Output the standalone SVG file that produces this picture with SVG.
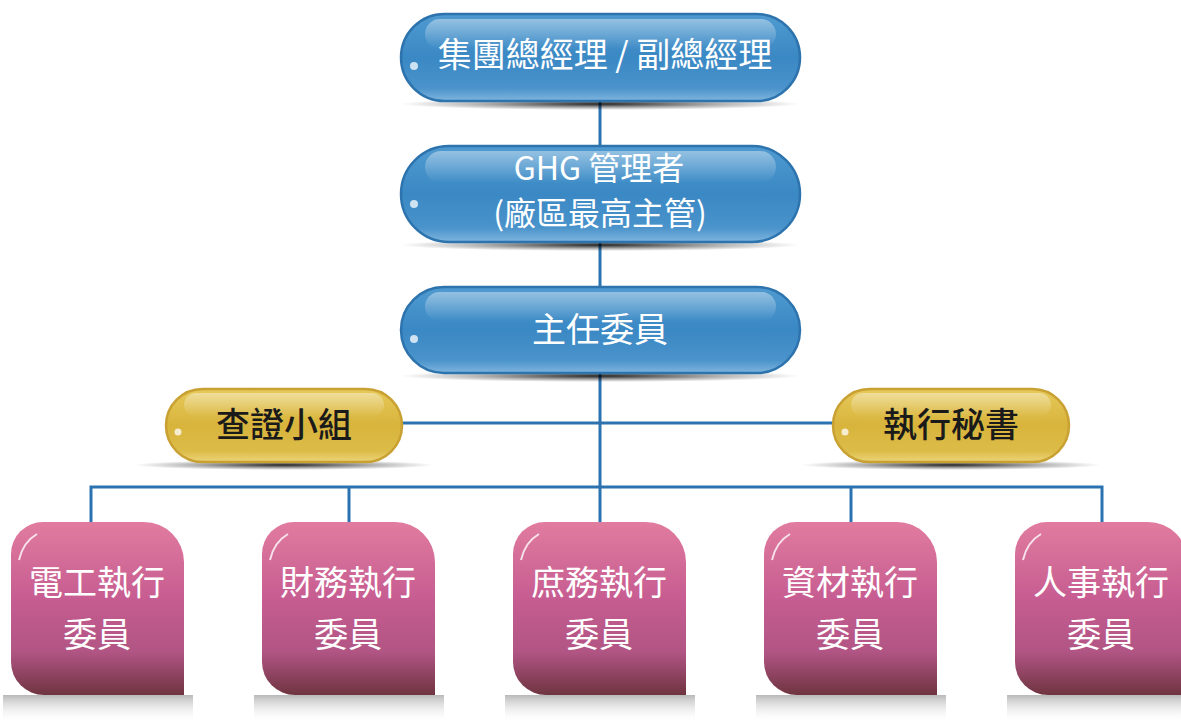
<svg xmlns="http://www.w3.org/2000/svg" width="1181" height="723" viewBox="0 0 1181 723">
<defs>
<linearGradient id="gBlue" x1="0" y1="0" x2="0" y2="1">
<stop offset="0" stop-color="#4f9ad0"/>
<stop offset="0.5" stop-color="#3a88c4"/>
<stop offset="0.85" stop-color="#4a93cb"/>
<stop offset="1" stop-color="#7fb5de"/>
</linearGradient>
<linearGradient id="gGold" x1="0" y1="0" x2="0" y2="1">
<stop offset="0" stop-color="#e6c95a"/>
<stop offset="0.5" stop-color="#d8b43c"/>
<stop offset="0.85" stop-color="#dcbc48"/>
<stop offset="1" stop-color="#ecd47a"/>
</linearGradient>
<linearGradient id="gHi" x1="0" y1="0" x2="0" y2="1">
<stop offset="0" stop-color="#ffffff" stop-opacity="0.4"/>
<stop offset="1" stop-color="#ffffff" stop-opacity="0"/>
</linearGradient>
<linearGradient id="gPink" x1="0" y1="0" x2="0" y2="1">
<stop offset="0" stop-color="#e17c9f"/>
<stop offset="0.45" stop-color="#c65c91"/>
<stop offset="0.75" stop-color="#b15584"/>
<stop offset="1" stop-color="#6f3440"/>
</linearGradient>
<radialGradient id="gShadow" cx="0.5" cy="0.5" r="0.5">
<stop offset="0" stop-color="#000" stop-opacity="0.85"/>
<stop offset="0.6" stop-color="#000" stop-opacity="0.3"/>
<stop offset="1" stop-color="#000" stop-opacity="0"/>
</radialGradient>
<linearGradient id="gRefl" x1="0" y1="0" x2="0" y2="1">
<stop offset="0" stop-color="#8a8a8a" stop-opacity="0.6"/>
<stop offset="1" stop-color="#ffffff" stop-opacity="0"/>
</linearGradient>
<path id="box" d="M32,0 H133 A40,40 0 0 1 173,40 V173 H33 A33,33 0 0 1 0,140 V32 A32,32 0 0 1 32,0 Z"/>
</defs>
<style>
.pillB{fill:url(#gBlue);stroke:#2d73ad;stroke-width:2.5}
.pillG{fill:url(#gGold);stroke:#c9a032;stroke-width:2.5}
.hi{fill:url(#gHi)}
.pink{fill:url(#gPink)}
.conn{fill:none;stroke:#2b72b0;stroke-width:3}
.tw{fill:#ffffff;font-family:"Noto Sans CJK TC","Noto Sans",sans-serif;font-weight:400;text-anchor:middle;font-size:34px}
.tb{fill:#1a1a1a;font-family:"Noto Sans CJK TC","Noto Sans",sans-serif;font-weight:500;text-anchor:middle;font-size:34px}
.glint{fill:#ffffff;opacity:0.75}
</style>
<rect width="1181" height="723" fill="#ffffff"/>

<g id="connectors">
<path class="conn" d="M600,101 V146 M600,242 V287 M600,373 V522 M402,423 H833 M91,522 V487 H1102 V522 M349,487 V522 M851,487 V522"/>
</g>

<g id="n-top">
<ellipse cx="600" cy="104" rx="200" ry="6" fill="url(#gShadow)"/>
<rect class="pillB" x="401" y="14" width="399" height="87" rx="43.5"/>
<rect class="hi" x="425" y="19" width="351" height="30" rx="15"/>
<circle class="glint" cx="414" cy="66" r="4"/>
<text class="tw" x="605" y="67">集團總經理 / 副總經理</text>
</g>

<g id="n-ghg">
<ellipse cx="600" cy="245" rx="200" ry="6" fill="url(#gShadow)"/>
<rect class="pillB" x="401" y="146" width="399" height="96" rx="48"/>
<rect class="hi" x="425" y="151" width="351" height="32" rx="16"/>
<circle class="glint" cx="414" cy="204" r="4"/>
<text class="tw" x="599" y="180" style="font-size:32px">GHG 管理者</text>
<text class="tw" x="600" y="225" style="font-size:32px">(廠區最高主管)</text>
</g>

<g id="n-chair">
<ellipse cx="600" cy="376" rx="200" ry="6" fill="url(#gShadow)"/>
<rect class="pillB" x="401" y="287" width="399" height="86" rx="43"/>
<rect class="hi" x="425" y="292" width="351" height="29" rx="14.5"/>
<circle class="glint" cx="414" cy="339" r="4"/>
<text class="tw" x="600" y="342">主任委員</text>
</g>

<g id="n-verify">
<ellipse cx="284" cy="465" rx="150" ry="5" fill="url(#gShadow)"/>
<rect class="pillG" x="166" y="389" width="236" height="73" rx="36.5"/>
<rect class="hi" x="184" y="393" width="200" height="24" rx="12"/>
<circle class="glint" cx="178" cy="432" r="3.5"/>
<text class="tb" x="284" y="437">查證小組</text>
</g>

<g id="n-secretary">
<ellipse cx="951" cy="465" rx="150" ry="5" fill="url(#gShadow)"/>
<rect class="pillG" x="833" y="389" width="236" height="73" rx="36.5"/>
<rect class="hi" x="851" y="393" width="200" height="24" rx="12"/>
<circle class="glint" cx="845" cy="432" r="3.5"/>
<text class="tb" x="951" y="437">執行秘書</text>
</g>

<g id="n-elec" transform="translate(11,522)">
<rect x="-8" y="173" width="190" height="28" fill="url(#gRefl)"/>
<use href="#box" class="pink"/>
<path d="M8,38 Q12,20 26,12" fill="none" stroke="#fff" stroke-width="2" opacity="0.8"/>
<text class="tw" x="86" y="73">電工執行</text>
<text class="tw" x="86" y="125">委員</text>
</g>

<g id="n-finance" transform="translate(262,522)">
<rect x="-8" y="173" width="190" height="28" fill="url(#gRefl)"/>
<use href="#box" class="pink"/>
<path d="M8,38 Q12,20 26,12" fill="none" stroke="#fff" stroke-width="2" opacity="0.8"/>
<text class="tw" x="86" y="73">財務執行</text>
<text class="tw" x="86" y="125">委員</text>
</g>

<g id="n-general" transform="translate(513,522)">
<rect x="-8" y="173" width="190" height="28" fill="url(#gRefl)"/>
<use href="#box" class="pink"/>
<path d="M8,38 Q12,20 26,12" fill="none" stroke="#fff" stroke-width="2" opacity="0.8"/>
<text class="tw" x="86" y="73">庶務執行</text>
<text class="tw" x="86" y="125">委員</text>
</g>

<g id="n-material" transform="translate(764,522)">
<rect x="-8" y="173" width="190" height="28" fill="url(#gRefl)"/>
<use href="#box" class="pink"/>
<path d="M8,38 Q12,20 26,12" fill="none" stroke="#fff" stroke-width="2" opacity="0.8"/>
<text class="tw" x="86" y="73">資材執行</text>
<text class="tw" x="86" y="125">委員</text>
</g>

<g id="n-hr" transform="translate(1015,522)">
<rect x="-8" y="173" width="190" height="28" fill="url(#gRefl)"/>
<use href="#box" class="pink"/>
<path d="M8,38 Q12,20 26,12" fill="none" stroke="#fff" stroke-width="2" opacity="0.8"/>
<text class="tw" x="86" y="73">人事執行</text>
<text class="tw" x="86" y="125">委員</text>
</g>
</svg>
